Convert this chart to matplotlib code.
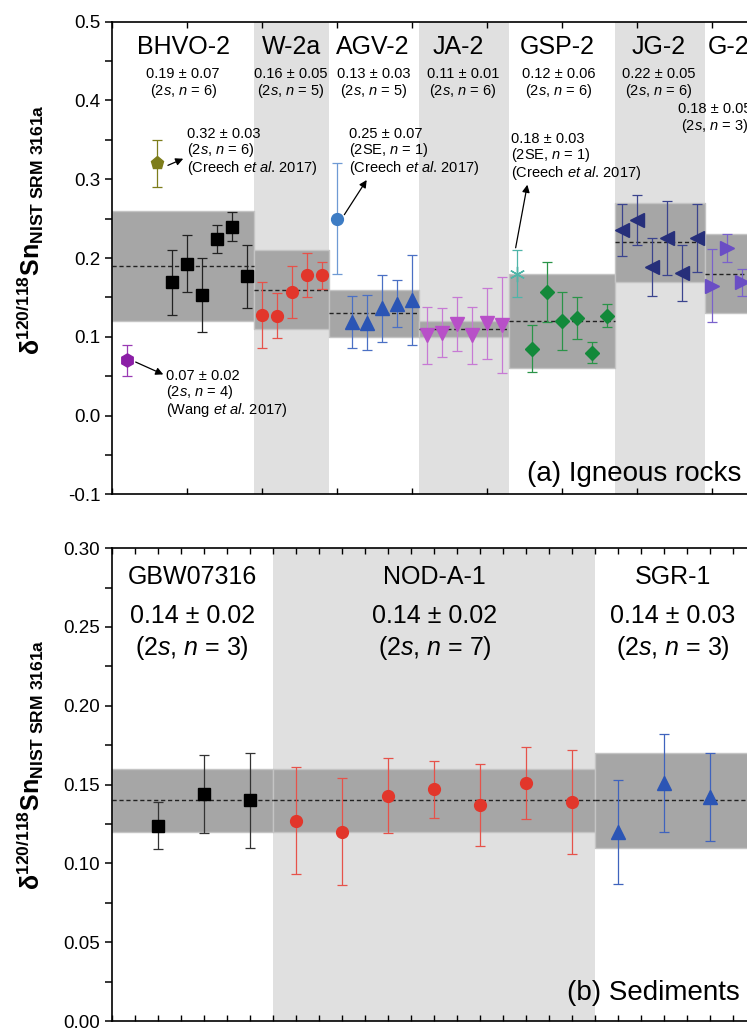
import numpy as np
import matplotlib.pyplot as plt

plt.rcParams['font.family'] = ['Liberation Sans', 'DejaVu Sans']
plt.rcParams['mathtext.fontset'] = 'custom'
plt.rcParams['mathtext.rm'] = 'Liberation Sans'
plt.rcParams['mathtext.it'] = 'Liberation Sans:italic'
plt.rcParams['mathtext.bf'] = 'Liberation Sans:bold'

# ---------------- (a) igneous rocks ----------------
ig_names = ['BHVO-2', 'W-2a', 'AGV-2', 'JA-2', 'GSP-2', 'JG-2', 'G-2']
ig_mean = [0.19, 0.16, 0.13, 0.11, 0.12, 0.22, 0.18]
ig_2s = [0.07, 0.05, 0.03, 0.01, 0.06, 0.05, 0.05]
ig_n = [6, 5, 5, 6, 6, 6, 3]
ig_edges = [0, 9.5, 14.5, 20.5, 26.5, 33.5, 39.5, 43]
ig_shaded = [False, True, False, True, False, True, False]
ig_name_x = [4.8, 11.95, 17.35, 23.1, 29.7, 36.45, 41.1]
ig_stat_x = [4.75, 11.9, 17.43, 23.4, 29.8, 36.45, 40.2]
ig_stat_y = [0.434, 0.434, 0.434, 0.434, 0.434, 0.434, 0.389]

bhvo_x = [4, 5, 6, 7, 8, 9]
bhvo_y = [0.169, 0.193, 0.153, 0.224, 0.240, 0.177]
bhvo_e = [0.041, 0.036, 0.047, 0.018, 0.018, 0.040]

w2a_x = [10, 11, 12, 13, 14]
w2a_y = [0.128, 0.127, 0.157, 0.179, 0.178]
w2a_e = [0.042, 0.028, 0.033, 0.028, 0.017]

agv_x = [16, 17, 18, 19, 20]
agv_y = [0.119, 0.118, 0.136, 0.142, 0.147]
agv_e = [0.033, 0.035, 0.042, 0.030, 0.057]

ja2_x = [21, 22, 23, 24, 25, 26]
ja2_y = [0.102, 0.105, 0.116, 0.102, 0.117, 0.115]
ja2_e = [0.036, 0.031, 0.034, 0.036, 0.045, 0.061]

gsp_x = [28, 29, 30, 31, 32, 33]
gsp_y = [0.085, 0.157, 0.120, 0.124, 0.080, 0.127]
gsp_e = [0.030, 0.038, 0.037, 0.027, 0.013, 0.015]

jg2_x = [34, 35, 36, 37, 38, 39]
jg2_y = [0.236, 0.248, 0.189, 0.225, 0.181, 0.225]
jg2_e = [0.033, 0.032, 0.037, 0.047, 0.036, 0.043]

g2_x = [40, 41, 42]
g2_y = [0.165, 0.213, 0.169]
g2_e = [0.046, 0.0175, 0.017]

# literature values
creech_bhvo = (3, 0.32, 0.03)
wang_bhvo = (1, 0.07, 0.02)
creech_agv = (15, 0.25, 0.07)
creech_gsp = (27, 0.18, 0.03)

# ---------------- (b) sediments ----------------
sd_names = ['GBW07316', 'NOD-A-1', 'SGR-1']
sd_mean = [0.14, 0.14, 0.14]
sd_2s = [0.02, 0.02, 0.03]
sd_n = [3, 7, 3]
sd_edges = [0, 7, 21, 28]
sd_shaded = [False, True, False]
sd_name_x = [3.5, 14.05, 24.4]

gbw_x = [2, 4, 6]
gbw_y = [0.124, 0.144, 0.140]
gbw_e = [0.015, 0.025, 0.030]

nod_x = [8, 10, 12, 14, 16, 18, 20]
nod_y = [0.127, 0.120, 0.143, 0.147, 0.137, 0.151, 0.139]
nod_e = [0.034, 0.034, 0.024, 0.018, 0.026, 0.023, 0.033]

sgr_x = [22, 24, 26]
sgr_y = [0.120, 0.151, 0.142]
sgr_e = [0.033, 0.031, 0.028]

fig = plt.figure(figsize=(7.47, 10.28), dpi=100)
ax1 = fig.add_axes([0.1499, 0.519, 0.8635, 0.460])
ax2 = fig.add_axes([0.1495, 0.0068, 0.862, 0.4600])

BOX = '#a6a6a6'
BOX_EDGE = '#c4c4c4'
LIGHT = '#e0e0e0'


def draw_groups(ax, edges, shaded, mean, s2):
    for i in range(len(mean)):
        x0, x1 = edges[i], edges[i + 1]
        if shaded[i]:
            ax.axvspan(x0, x1, color=LIGHT, lw=0, zorder=0)
        ax.fill_between([x0, x1], mean[i] - s2[i], mean[i] + s2[i],
                        facecolor=BOX, edgecolor=BOX_EDGE, lw=1, zorder=1)
        ax.plot([x0, x1], [mean[i], mean[i]], ls=(0, (3, 2)), color='#222222', lw=1, zorder=2)


def eb(ax, x, y, e, marker, color, ecolor, ms):
    ax.errorbar(x, y, yerr=e, fmt='none', ecolor=ecolor,
                elinewidth=0.9, capsize=3.6, capthick=0.9, zorder=3)
    ax.plot(x, y, ls='none', marker=marker, color=color, mec=color, ms=ms, zorder=4)


# ---- panel (a)
draw_groups(ax1, ig_edges, ig_shaded, ig_mean, ig_2s)
eb(ax1, bhvo_x, bhvo_y, bhvo_e, 's', 'black', '#222222', 8.5)
eb(ax1, w2a_x, w2a_y, w2a_e, 'o', '#e2362b', '#e6524a', 8.5)
eb(ax1, agv_x, agv_y, agv_e, '^', '#2b55b5', '#4b70c4', 10)
eb(ax1, ja2_x, ja2_y, ja2_e, 'v', '#b850c8', '#c77ad4', 10)
eb(ax1, gsp_x, gsp_y, gsp_e, 'D', '#13893a', '#2a9448', 7.5)
eb(ax1, jg2_x, jg2_y, jg2_e, '<', '#262f7a', '#3b448e', 10)
eb(ax1, g2_x, g2_y, g2_e, '>', '#6a4ec4', '#7a62cc', 10)

eb(ax1, [creech_bhvo[0]], [creech_bhvo[1]], [creech_bhvo[2]], 'p', '#7d7d1b', '#7d7d1b', 9.5)
eb(ax1, [wang_bhvo[0]], [wang_bhvo[1]], [wang_bhvo[2]], 'h', '#8b1ea6', '#9a3ab4', 9.5)
eb(ax1, [creech_agv[0]], [creech_agv[1]], [creech_agv[2]], 'o', '#3d7cc4', '#6f9ad4', 8.5)
eb(ax1, [creech_gsp[0]], [creech_gsp[1]], [creech_gsp[2]], (6, 2, 0), '#4fb5a8', '#4fb5a8', 11)

for i, name in enumerate(ig_names):
    ax1.text(ig_name_x[i], 0.468, name, ha='center', va='center', fontsize=18)
    ax1.text(ig_stat_x[i], ig_stat_y[i], f'{ig_mean[i]:.2f} ± {ig_2s[i]:.2f}',
             ha='center', va='center', fontsize=10.5)
    ax1.text(ig_stat_x[i], ig_stat_y[i] - 0.022, rf'(2$s$, $n$ = {ig_n[i]})',
             ha='center', va='center', fontsize=10.5)

arrow = dict(arrowstyle='-|>', color='black', lw=0.9, mutation_scale=11, shrinkA=0, shrinkB=0)
notes = [
    ((4.75, 0.326), (3.73, 0.3176), (5.02, 0.335),
     '0.32 ± 0.03\n(2$s$, $n$ = 6)\n(Creech $et$ $al$. 2017)'),
    ((16.98, 0.299), (15.49, 0.255), (15.8, 0.335),
     '0.25 ± 0.07\n(2SE, $n$ = 1)\n(Creech $et$ $al$. 2017)'),
    ((27.69, 0.293), (26.91, 0.213), (26.58, 0.3287),
     '0.18 ± 0.03\n(2SE, $n$ = 1)\n(Creech $et$ $al$. 2017)'),
    ((3.42, 0.0523), (1.58, 0.068), (3.58, 0.0277),
     '0.07 ± 0.02\n(2$s$, $n$ = 4)\n(Wang $et$ $al$. 2017)'),
]
for head, tail, pos, txt in notes:
    ax1.annotate('', xy=head, xytext=tail, arrowprops=arrow)
    ax1.text(pos[0], pos[1], txt, ha='left', va='center', fontsize=10.5, linespacing=1.0)

ax1.text(41.93, -0.074, '(a) Igneous rocks', ha='right', va='center', fontsize=20)

ax1.set_xlim(0, 43)
ax1.set_ylim(-0.1, 0.5)
ax1.set_xticks(np.arange(0, 43, 5))
ax1.set_yticks(np.arange(-0.1, 0.51, 0.1))
ax1.set_yticklabels(['-0.1', '0.0', '0.1', '0.2', '0.3', '0.4', '0.5'])
ax1.set_yticks(np.arange(-0.05, 0.5, 0.1), minor=True)

# ---- panel (b)
draw_groups(ax2, sd_edges, sd_shaded, sd_mean, sd_2s)
eb(ax2, gbw_x, gbw_y, gbw_e, 's', 'black', '#333333', 8)
eb(ax2, nod_x, nod_y, nod_e, 'o', '#e2362b', '#e6524a', 8.5)
eb(ax2, sgr_x, sgr_y, sgr_e, '^', '#2b55b5', '#3f63bd', 10)

for i, name in enumerate(sd_names):
    ax2.text(sd_name_x[i], 0.2818, name, ha='center', va='center', fontsize=18)
    ax2.text(sd_name_x[i], 0.257, f'{sd_mean[i]:.2f} ± {sd_2s[i]:.2f}',
             ha='center', va='center', fontsize=18)
    ax2.text(sd_name_x[i], 0.2365, rf'(2$s$, $n$ = {sd_n[i]})',
             ha='center', va='center', fontsize=18)

ax2.text(27.3, 0.018, '(b) Sediments', ha='right', va='center', fontsize=20)

ax2.set_xlim(0, 28)
ax2.set_ylim(0, 0.30)
ax2.set_xticks(np.arange(0, 28.1, 1))
ax2.set_yticks(np.arange(0, 0.301, 0.05))
ax2.set_yticklabels(['0.00', '0.05', '0.10', '0.15', '0.20', '0.25', '0.30'])
ax2.set_yticks(np.arange(0.025, 0.3, 0.05), minor=True)

for ax in (ax1, ax2):
    for sp in ax.spines.values():
        sp.set_linewidth(1.2)
    ax.tick_params(axis='x', which='both', direction='in', top=True, bottom=True,
                   labelbottom=False, length=4, width=1)
    ax.tick_params(axis='y', which='both', direction='out', left=True, right=False,
                   labelsize=13.5, length=5, width=1.1)

ylab = r'$\mathbf{\delta^{120/118}Sn_{NIST\ SRM\ 3161a}}$'
fig.text(0.04, 0.777, ylab, rotation=90, ha='center', va='center', fontsize=18)
fig.text(0.04, 0.256, ylab, rotation=90, ha='center', va='center', fontsize=18)

fig.savefig('out.png', dpi=100)
